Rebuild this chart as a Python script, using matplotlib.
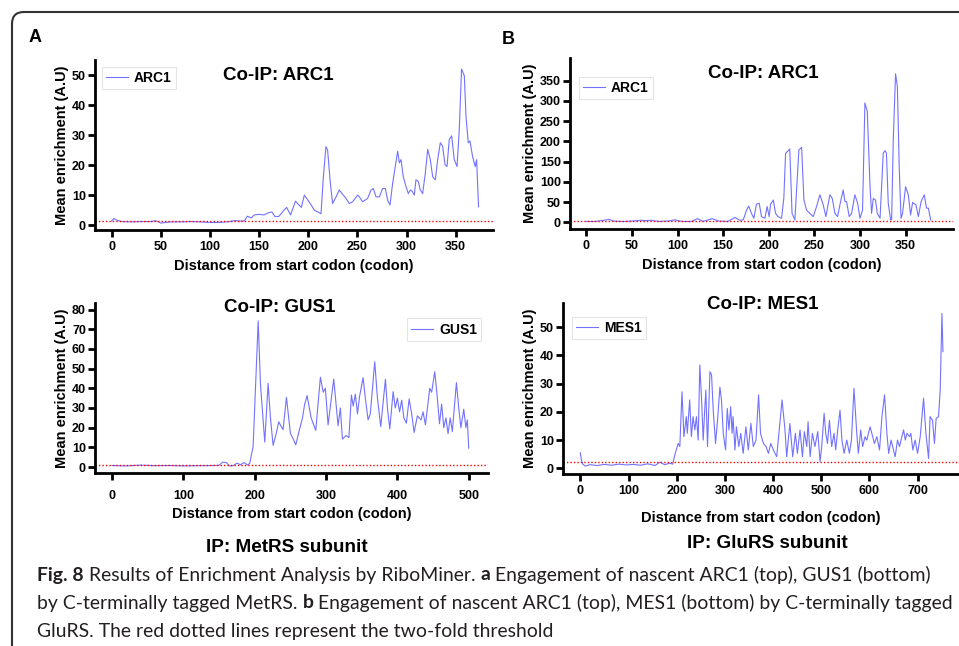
import numpy as np
import matplotlib
matplotlib.use("Agg")
import matplotlib.pyplot as plt
from matplotlib.patches import FancyBboxPatch
from matplotlib.transforms import IdentityTransform

plt.rcParams['font.family'] = ['Liberation Sans', 'DejaVu Sans']

# ---- data ----
# A top: ARC1 (MetRS IP)
arc1_a_x = [0, 2, 5, 10, 20, 30, 40, 45, 50, 60, 70, 80, 90, 100, 110, 120, 125, 130, 135,
            138, 142, 145, 150, 155, 160, 163, 166, 170, 175, 178, 182, 187, 190, 193,
            196, 199.7, 203, 206.2, 211.3, 213, 215.4, 218, 219.7, 222.5, 224.8, 228.3,
            231.6, 234.4, 238.4, 241.8, 245.2, 250.3, 252, 255.3, 260.4, 263.9, 266.2, 269,
            272.3, 275.7, 278.4, 280.8, 283.2, 285.9, 291, 292.7, 294.4, 296.7, 299.5, 301.8,
            303.9, 306.2, 307.9, 309.6, 312, 314, 316.4, 319.1, 321.5, 324.2, 326.6, 329.3,
            331.7, 334.4, 336.7, 339.2, 341.2, 343.5, 345.9, 348.6, 351.4, 353.7, 356, 358.8,
            360.5, 362.8, 364.5, 367.2, 369.9, 371.3, 373.3]
arc1_a_y = [1.5, 2.3, 1.8, 1.3, 1.2, 1.3, 1.3, 1.6, 0.8, 1.2, 1.2, 1.3, 1.2, 1.0, 1.0, 1.3, 1.6, 1.5, 1.5,
            3.1, 2.5, 3.5, 3.7, 3.5, 4.3, 4.5, 3.0, 3.0, 5.0, 6.0, 3.5, 8.1, 7.0, 6.0,
            10.1, 8.4, 6.8, 5.1, 4.2, 3.9, 16.2, 26.2, 25.0, 14.1, 7.3, 9.5,
            11.8, 10.6, 9.0, 7.3, 7.9, 10.1, 9.5, 7.9, 9.0, 11.8, 12.3, 9.5,
            9.5, 12.3, 12.3, 8.4, 6.8, 14.1, 24.7, 20.8, 21.9, 16.2, 12.9, 10.6,
            11.8, 11.2, 10.1, 15.2, 14.6, 11.8, 10.6, 17.3, 25.3, 21.9, 16.2, 15.2,
            21.9, 27.5, 26.4, 20.2, 19.6, 28.6, 29.8, 21.9, 19.6, 32.0, 52.0, 49.8,
            36.4, 27.5, 28.1, 23.0, 19.6, 21.9, 6.2]

# B top: ARC1 (GluRS IP)
arc1_b_x = [0, 10, 25, 30, 40, 50, 60, 65, 70, 80, 90, 97, 105, 115, 122, 128, 138, 145, 155,
            163, 168, 172, 175.6, 178, 181, 183.6, 186.5, 189.5, 192, 195.7, 198.2, 200.4,
            202, 205, 207.4, 210, 214, 216.5, 218.4, 223, 225.5, 228.6, 233, 236, 238.5,
            241.4, 245, 248.7, 252.4, 256, 259.7, 262.6, 267, 269.6, 272.5, 275.4, 278.7,
            281.6, 283.5, 285.3, 288.2, 290.8, 294.4, 297.4, 300, 302.8, 305.4, 308, 311,
            312.7, 314.6, 317, 319, 322, 325.5, 327.4, 329, 331, 333.6, 334.7, 336.5, 339,
            341, 343, 345, 346.7, 350, 353, 355.5, 357.7, 361.4, 364, 367, 370.5, 373, 375,
            377.5]
arc1_b_y = [2, 2, 7, 3, 2, 3, 5, 4, 5, 2, 3, 6, 2, 2, 9, 2, 9, 3, 2,
            12, 5, 6, 30, 40, 22, 10, 45, 47, 14, 10, 39, 14,
            45, 55, 22, 14, 10, 60, 170, 181, 22, 6, 179, 185, 55,
            30, 22, 14, 39, 68, 43, 14, 68, 59, 22, 14, 51,
            80, 51, 51, 14, 22, 68, 47, 10, 30, 295, 274, 88,
            22, 59, 55, 22, 10, 171, 177, 171, 47, 6, 6, 204, 367,
            336, 138, 10, 22, 88, 68, 18, 49, 43, 14, 51, 68, 35, 35,
            6]

# A bottom: GUS1 (MetRS IP)
gus1_x = [0, 20, 40, 60, 80, 100, 120, 140, 150, 155, 160, 165, 170, 175, 180, 185, 190,
          193, 197.7, 201, 204.8, 208, 214, 218.7, 222, 225.7, 230, 233.6, 236.5, 239.7,
          244.4, 250, 253, 257.5, 262, 266.8, 270, 273.4, 279, 285.5, 292, 296, 299, 302.8,
          310.7, 316.8, 320, 322.9, 328, 332, 335.5, 338, 341, 344, 347, 351.9, 355, 358.9,
          362, 368.2, 372, 376.6, 383.2, 386, 389.3, 394, 397, 400, 403, 406, 409, 412.6,
          416.4, 420, 423.4, 428, 433, 436, 439.3, 445.3, 448, 452.3, 456, 459, 462, 465,
          468, 471, 474, 477, 482.7, 486, 489, 493, 496, 498, 500]
gus1_y = [0.8, 0.6, 1.0, 0.7, 0.8, 0.6, 0.7, 0.8, 0.9, 2.5, 2.3, 0.5, 0.8, 2.0, 1.2, 2.3, 1.0,
          2.0, 10.5, 40, 74.2, 42, 12.7, 42.5, 25, 11, 17, 23, 21, 19,
          35.4, 17, 15, 11.3, 18, 24.8, 32, 36.3, 25, 18.6, 45.6, 38, 40, 21.4,
          44.7, 21, 30, 14.2, 16, 15, 36.6, 31, 37, 27, 36, 45.4, 35, 24,
          27, 53.5, 35, 20.6, 44.6, 30, 19.4, 38.3, 30, 35, 28, 34, 25, 22.3,
          34.6, 27, 17.6, 26, 24, 28, 21.4, 40, 38, 48.4, 35, 22, 32, 20,
          25, 17, 25, 18, 42.9, 30, 20, 29.4, 20, 24, 9.6]

# B bottom: MES1 (GluRS IP)
mes1_x = [0, 2, 5, 10, 20, 35, 50, 65, 80, 95, 110, 125, 140, 155, 165, 175, 185, 192,
          196, 203, 206.5, 211, 215, 220, 222, 227, 230.5, 234, 237.7, 241, 244.6, 248, 252,
          255, 258.5, 260.5, 264, 269, 272.4, 275.8, 280.6, 284.8, 289.7, 293, 296.6, 301.5,
          305, 308.4, 312, 315, 317, 320.9, 324, 329, 333, 338, 343.7, 348.6, 354, 359,
          364.6, 370, 374, 380, 385.6, 390.4, 395.2, 400.7, 407.6, 418.7, 424.8, 428.3, 435,
          440.8, 446.4, 450.5, 456, 461, 465, 470, 472.7, 477, 481.7, 487, 492.8, 497.6, 501,
          506, 509.4, 513, 517, 521.8, 526.6, 530, 534.3, 539, 543, 547.5, 553, 558.5, 562.7,
          568, 573.8, 577, 582, 586, 591, 594.6, 601.5, 605, 610.5, 615.4, 621, 626, 631.5,
          636.3, 640, 645, 650, 653.5, 658.3, 662.5, 667.4, 671, 674.5, 678, 683.3, 686,
          690.2, 695, 700, 705.5, 712.4, 717.3, 722.8, 726, 731, 735, 738.6, 743.5, 747,
          750.6, 752.7]
mes1_y = [5.5, 3.0, 1.5, 0.8, 1.3, 1.0, 1.4, 1.1, 1.5, 1.2, 1.4, 1.1, 1.6, 1.0, 2.2, 1.3, 1.8, 1.5,
          4.7, 8.8, 7.7, 27.1, 11.2, 18.3, 12.4, 24.2, 11.2, 18.3, 13.6, 18.3, 10, 36.6, 23,
          10, 21.8, 27.7, 7.7, 34.2, 33, 20.6, 8.8, 17, 28.7, 24.2, 12.4, 6.5,
          21.2, 13.6, 21.8, 12.4, 18.3, 6.5, 14.7, 7.7, 12.4, 5.3, 14.7, 6.5, 15.9, 7.7,
          10, 26, 12.4, 8.8, 7.7, 5.3, 8.8, 6.5, 4.1, 24.2, 13.6, 4.1, 15.9,
          4.1, 12.4, 5.3, 13.6, 4.1, 13, 7.7, 16.5, 4.1, 12.4, 7.7, 13, 2.4, 7.7,
          19.5, 12.4, 8.8, 17, 7.7, 12.4, 6.5, 13.6, 20.6, 10, 5.3, 10, 5.3, 10,
          28.3, 12.4, 5.3, 13.6, 7.7, 11.2, 10, 14.7, 12.4, 8.8, 11.2, 6.5, 18.3, 26,
          12.4, 5.3, 10, 6.5, 4.1, 10, 7.7, 11.2, 13.6, 10, 12.4, 11.2, 12.4,
          6.5, 10, 5.3, 11.2, 24.8, 12.4, 3.5, 18.3, 17, 8.8, 17.7, 18.3, 27.7,
          54.8, 41.3]

thresholds = [1.5, 3.2, 1.0, 2.1]

W, H = 959, 646
fig = plt.figure(figsize=(W / 100, H / 100), dpi=100)


def make_ax(left, right, top, bottom):
    return fig.add_axes([left / W, 1 - bottom / H, (right - left) / W, (bottom - top) / H])


line_col = '#7272ff'
bold = dict(fontweight='bold')


def style(ax, xlim, ylim, xticks, yticks, thr, xpad=3, labelpad=4):
    ax.set_xlim(*xlim)
    ax.set_ylim(*ylim)
    ax.set_xticks(xticks)
    ax.set_yticks(yticks)
    for s in ['top', 'right']:
        ax.spines[s].set_visible(False)
    for s in ['left', 'bottom']:
        ax.spines[s].set_linewidth(2)
    ax.tick_params(axis='both', width=2, length=5, labelsize=9, direction='out')
    ax.tick_params(axis='x', pad=xpad)
    ax.tick_params(axis='y', pad=1.5)
    for lab in ax.get_xticklabels() + ax.get_yticklabels():
        lab.set_fontweight('bold')
    ax.axhline(thr, color='red', linestyle=(0, (1, 1.5)), lw=1.0)
    ax.set_xlabel('Distance from start codon (codon)', fontsize=10.5, labelpad=labelpad, **bold)
    ax.set_ylabel('Mean enrichment (A.U)', fontsize=10.5, labelpad=2, **bold)


def add_legend(ax, loc, anchor):
    leg = ax.legend(loc=loc, bbox_to_anchor=anchor, prop=dict(weight='bold', size=10),
                    handlelength=1.6, handletextpad=0.4, borderpad=0.3, fancybox=False,
                    framealpha=1, edgecolor='#e4e4e4')
    leg.get_frame().set_linewidth(0.8)


# A top
ax1 = make_ax(95, 493, 60, 230)
ax1.plot(arc1_a_x, arc1_a_y, color=line_col, lw=0.8, label='ARC1')
style(ax1, (-17, 388), (-1.5, 55), range(0, 351, 50), range(0, 51, 10), thresholds[0])
ax1.text(0.46, 0.91, 'Co-IP: ARC1', transform=ax1.transAxes, ha='center', va='center', fontsize=13.5, **bold)
add_legend(ax1, 'upper left', (0.0, 1.0))

# B top
ax2 = make_ax(570, 953, 58, 229)
ax2.plot(arc1_b_x, arc1_b_y, color=line_col, lw=0.8, label='ARC1')
style(ax2, (-18, 402), (-16.6, 406), range(0, 351, 50), range(0, 351, 50), thresholds[1])
ax2.text(0.504, 0.912, 'Co-IP: ARC1', transform=ax2.transAxes, ha='center', va='center', fontsize=13.5, **bold)
add_legend(ax2, 'upper left', (0.005, 0.93))

# A bottom
ax3 = make_ax(95, 488, 303, 473)
ax3.plot(gus1_x, gus1_y, color=line_col, lw=0.8, label='GUS1')
style(ax3, (-24, 527), (-3, 83.3), range(0, 501, 100), range(0, 81, 10), thresholds[2], xpad=7, labelpad=4)
ax3.text(0.47, 0.975, 'Co-IP: GUS1', transform=ax3.transAxes, ha='center', va='center', fontsize=13.5, **bold)
add_legend(ax3, 'upper right', (1.0, 0.95))

# B bottom
ax4 = make_ax(563, 959, 303, 474)
ax4.plot(mes1_x, mes1_y, color=line_col, lw=0.8, label='MES1')
style(ax4, (-36, 786), (-2, 58.5), range(0, 701, 100), range(0, 51, 10), thresholds[3], xpad=3, labelpad=10)
ax4.text(0.505, 0.99, 'Co-IP: MES1', transform=ax4.transAxes, ha='center', va='center', fontsize=13.5, **bold)
add_legend(ax4, 'upper left', (0.005, 0.96))

# panel letters and sub-captions
fig.text(29 / W, 1 - 37 / H, 'A', fontsize=13, va='center', ha='left', **bold)
fig.text(502 / W, 1 - 39 / H, 'B', fontsize=13, va='center', ha='left', **bold)
fig.text(287 / W, 1 - 547 / H, 'IP: MetRS subunit', fontsize=13.6, ha='center', va='center', **bold)
fig.text(767 / W, 1 - 543 / H, 'IP: GluRS subunit', fontsize=13.6, ha='center', va='center', **bold)

# frame with rounded top-left corner
frame = FancyBboxPatch((12, -40), 1000, H - 12 + 40, boxstyle='round,pad=0,rounding_size=12',
                       transform=IdentityTransform(), fill=False, edgecolor='#333333', lw=1.5)
fig.add_artist(frame)

# figure caption, mixed bold / regular runs
cap_lines = [
    [('Fig. 8', True), (' Results of Enrichment Analysis by RiboMiner. ', False), ('a', True),
     (' Engagement of nascent ARC1 (top), GUS1 (bottom)', False)],
    [('by C-terminally tagged MetRS. ', False), ('b', True),
     (' Engagement of nascent ARC1 (top), MES1 (bottom) by C-terminally tagged', False)],
    [('GluRS. The red dotted lines represent the two-fold threshold', False)],
]
cap_y = [575, 603, 631]
cap_font = ['Lato', 'DejaVu Sans']
renderer = fig.canvas.get_renderer()


def draw_runs(runs, yy, size, draw=True):
    x = 37
    made = []
    for txt, b in runs:
        t = fig.text(x / W, 1 - yy / H, txt, fontsize=size, family=cap_font,
                     fontweight='bold' if b else 'normal', color='#231f20', va='center', ha='left')
        x += t.get_window_extent(renderer).width
        made.append(t)
    if not draw:
        for t in made:
            t.remove()
    return x - 37


# fit the size so the second (longest) line spans about the same width as in the figure
w = draw_runs(cap_lines[1], cap_y[1], 12, draw=False)
cap_size = 12 * 912 / w
for runs, yy in zip(cap_lines, cap_y):
    draw_runs(runs, yy, cap_size)

fig.savefig('out.png', dpi=100)
